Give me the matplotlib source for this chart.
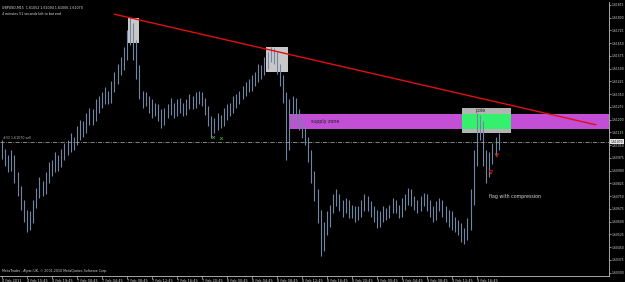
import matplotlib
matplotlib.use("Agg")
import matplotlib.pyplot as plt
from matplotlib.patches import Rectangle

# header / footer texts of the terminal window
symbol_line = "GBPUSD,M15  1.61052 1.61094 1.61006 1.61070"
timer_line = "4 minutes 51 seconds left to bar end"
copyright_line = "MetaTrader - Alpari UK, \u00a9 2001-2010 MetaQuotes Software Corp."

# bar highs / lows (one bar every 30 min of chart width)
highs = [1.6108, 1.6103, 1.6099, 1.6102, 1.6099, 1.6089, 1.6081, 1.6073, 1.6067, 1.6066,
         1.6073, 1.6080, 1.6086, 1.6084, 1.6089, 1.6095, 1.6096, 1.6101, 1.6099, 1.6103,
         1.6106, 1.6108, 1.6112, 1.6110, 1.6116, 1.6120, 1.6119, 1.6124, 1.6127, 1.6126,
         1.6132, 1.6134, 1.6136, 1.6139, 1.6137, 1.6143, 1.6148, 1.6153, 1.6157, 1.6163,
         1.6173, 1.6180, 1.6177, 1.6167, 1.6152, 1.6137, 1.6136, 1.6134, 1.6132, 1.6130,
         1.6129, 1.6126, 1.6127, 1.6129, 1.6133, 1.6130, 1.6132, 1.6133, 1.6130, 1.6132,
         1.6135, 1.6134, 1.6136, 1.6137, 1.6136, 1.6133, 1.6128, 1.6122, 1.6121, 1.6124,
         1.6123, 1.6127, 1.6129, 1.6130, 1.6134, 1.6135, 1.6137, 1.6140, 1.6142, 1.6144,
         1.6146, 1.6148, 1.6153, 1.6152, 1.6157, 1.6160, 1.6163, 1.6162, 1.6160, 1.6153,
         1.6146, 1.6136, 1.6132, 1.6134, 1.6133, 1.6126, 1.6120, 1.6116, 1.6110, 1.6102,
         1.6090, 1.6079, 1.6067, 1.6060, 1.6066, 1.6070, 1.6076, 1.6079, 1.6076, 1.6073,
         1.6074, 1.6073, 1.6070, 1.6069, 1.6069, 1.6073, 1.6076, 1.6075, 1.6072, 1.6069,
         1.6067, 1.6066, 1.6069, 1.6068, 1.6070, 1.6074, 1.6073, 1.6070, 1.6074, 1.6076,
         1.6080, 1.6079, 1.6075, 1.6073, 1.6075, 1.6077, 1.6076, 1.6073, 1.6069, 1.6072,
         1.6074, 1.6073, 1.6069, 1.6067, 1.6066, 1.6063, 1.6061, 1.6059, 1.6056, 1.6062,
         1.6079, 1.6102, 1.6124, 1.6123, 1.6119, 1.6102, 1.6101, 1.6106, 1.6110, 1.6112]
lows = [1.6097, 1.6093, 1.6089, 1.6090, 1.6083, 1.6075, 1.6067, 1.6060, 1.6054, 1.6055,
        1.6059, 1.6068, 1.6074, 1.6075, 1.6076, 1.6083, 1.6087, 1.6089, 1.6090, 1.6092,
        1.6096, 1.6099, 1.6101, 1.6102, 1.6105, 1.6108, 1.6110, 1.6112, 1.6117, 1.6117,
        1.6119, 1.6124, 1.6127, 1.6129, 1.6129, 1.6130, 1.6136, 1.6141, 1.6146, 1.6149,
        1.6155, 1.6164, 1.6155, 1.6144, 1.6132, 1.6127, 1.6128, 1.6124, 1.6121, 1.6122,
        1.6119, 1.6115, 1.6117, 1.6121, 1.6123, 1.6121, 1.6122, 1.6124, 1.6122, 1.6123,
        1.6126, 1.6126, 1.6127, 1.6129, 1.6128, 1.6123, 1.6116, 1.6109, 1.6112, 1.6114,
        1.6115, 1.6116, 1.6120, 1.6122, 1.6124, 1.6127, 1.6129, 1.6132, 1.6134, 1.6136,
        1.6137, 1.6140, 1.6142, 1.6144, 1.6146, 1.6150, 1.6154, 1.6153, 1.6147, 1.6140,
        1.6130, 1.6096, 1.6102, 1.6117, 1.6120, 1.6114, 1.6109, 1.6105, 1.6095, 1.6083,
        1.6072, 1.6059, 1.6040, 1.6043, 1.6052, 1.6057, 1.6065, 1.6069, 1.6066, 1.6063,
        1.6065, 1.6062, 1.6062, 1.6060, 1.6061, 1.6063, 1.6066, 1.6066, 1.6063, 1.6060,
        1.6056, 1.6057, 1.6060, 1.6061, 1.6062, 1.6065, 1.6065, 1.6062, 1.6063, 1.6067,
        1.6070, 1.6069, 1.6067, 1.6065, 1.6066, 1.6069, 1.6066, 1.6063, 1.6060, 1.6061,
        1.6066, 1.6063, 1.6060, 1.6057, 1.6055, 1.6054, 1.6052, 1.6048, 1.6047, 1.6049,
        1.6055, 1.6070, 1.6093, 1.6108, 1.6093, 1.6083, 1.6086, 1.6094, 1.6099, 1.6102]

time_labels = ["4 Feb 2011", "4 Feb 15:45", "4 Feb 19:45", "7 Feb 00:45", "7 Feb 04:45",
               "7 Feb 08:45", "7 Feb 12:45", "7 Feb 16:45", "7 Feb 20:45", "8 Feb 00:45",
               "8 Feb 04:45", "8 Feb 08:45", "8 Feb 12:45", "8 Feb 16:45", "8 Feb 20:45",
               "9 Feb 00:45", "9 Feb 04:45", "9 Feb 08:45", "9 Feb 12:45", "9 Feb 16:45"]
time_label_bars = [0, 8, 16, 24, 32, 40, 48, 56, 64, 72,
                   80, 88, 96, 104, 112, 120, 128, 136, 144, 152]

price_ticks = [1.61875, 1.61800, 1.61725, 1.61650, 1.61575, 1.61500, 1.61425, 1.61350,
               1.61275, 1.61200, 1.61125, 1.61050, 1.60975, 1.60900, 1.60825, 1.60750,
               1.60675, 1.60600, 1.60525, 1.60450, 1.60375, 1.60300]
bid_price = 1.61070

# chart objects: trend line, rectangles, arrows
trend_bars = [36, 190]
trend_prices = [1.6182, 1.6117]
# (first bar, last bar, low price, high price, colour)
boxes = [(40.2, 43.8, 1.6165, 1.6180, "#c8c8c8"),
         (84.5, 91.6, 1.6148, 1.6163, "#c8c8c8"),
         (92.2, 200.0, 1.61145, 1.61235, "#c24fd6"),
         (147.2, 162.8, 1.6112, 1.6127, "#b4b4b4"),
         (147.2, 162.8, 1.61145, 1.61235, "#35f06c")]
arrow_bars = [156.5, 158.4]
arrow_prices = [1.6089, 1.6099]
trade_bars = [67.5, 70.0]
trade_prices = [1.6110, 1.6109]

fig = plt.figure(figsize=(6.25, 2.82), dpi=100, facecolor="black")
ax = fig.add_axes([0, 6 / 282, 609 / 625, 274 / 282])
ax.set_facecolor("black")

for x0, x1, p0, p1, col in boxes:
    ax.add_patch(Rectangle((x0, p0), x1 - x0, p1 - p0, facecolor=col,
                           edgecolor="none", zorder=1))

bar_idx = list(range(len(highs)))
ax.vlines(bar_idx, lows, highs, color="#7485a3", lw=0.8, zorder=2)

ax.plot(trend_bars, trend_prices, color="#e01010", lw=1.0, zorder=3)
ax.axhline(bid_price, color="#9a9a9a", lw=0.6, ls=(0, (5, 1.5, 1, 1.5)), zorder=3)
ax.scatter(arrow_bars, arrow_prices, marker="v", s=6, facecolor="none",
           edgecolor="#d02020", lw=0.6, zorder=4)
ax.scatter(trade_bars, trade_prices, marker="x", s=4, color="#20c020", lw=0.5, zorder=4)

ax.text(99, 1.6119, "supply zone", fontsize=3.4, color="#202020", va="center", zorder=5)
ax.text(151.5, 1.61255, "pole", fontsize=3.4, color="#202020", va="center", zorder=5)
ax.text(156, 1.6075, "flag with compression", fontsize=3.4, color="#d8d8d8",
        va="center", zorder=5)
ax.text(0.3, bid_price + 0.0002, "#33 1.61070 sell", fontsize=2.3, color="#b0b0b0",
        va="center", zorder=5)

ax.text(0.004, 0.985, symbol_line, transform=ax.transAxes, fontsize=2.3,
        color="#e0e0e0", va="top")
ax.text(0.004, 0.962, timer_line, transform=ax.transAxes, fontsize=2.3,
        color="#e0e0e0", va="top")
ax.text(0.004, 0.012, copyright_line, transform=ax.transAxes, fontsize=2.3,
        color="#d0d0d0", va="bottom")

ax.set_xlim(-0.64, 194.3)
ax.set_ylim(1.6028, 1.61892)

ax.yaxis.tick_right()
ax.set_yticks(price_ticks)
ax.set_yticklabels([f"{p:.5f}" for p in price_ticks])
ax.set_xticks(time_label_bars)
ax.set_xticklabels(time_labels)
for lab in ax.get_xticklabels():
    lab.set_ha("left")
ax.tick_params(axis="y", length=1.5, width=0.5, color="#c0c0c0", labelsize=2.2,
               labelcolor="#d8d8d8", pad=0.4)
ax.tick_params(axis="x", length=2, width=0.5, color="#c0c0c0", labelsize=2.5,
               labelcolor="#d8d8d8", pad=0.5)

for side in ["left", "top"]:
    ax.spines[side].set_visible(False)
for side in ["right", "bottom"]:
    ax.spines[side].set_color("#c0c0c0")
    ax.spines[side].set_linewidth(0.6)

# current price marker on the scale, covering the grid label under it
ax.annotate(f"{bid_price:.5f}", xy=(1.0, bid_price), xycoords=("axes fraction", "data"),
            xytext=(1.0, 0), textcoords="offset points", fontsize=2.2, color="black",
            va="center", ha="left",
            bbox=dict(boxstyle="square,pad=0.2", fc="#e8e8e8", ec="none"),
            annotation_clip=False, zorder=6)

fig.savefig("out.png", dpi=100, facecolor="black")
